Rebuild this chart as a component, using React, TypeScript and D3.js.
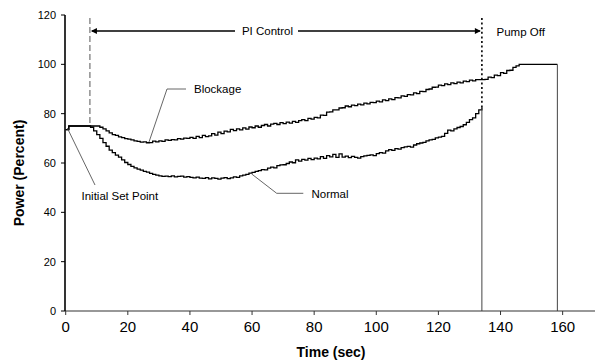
import React from "react";
import * as d3 from "d3";

// Sampled every 1 second; sample i is at t = i seconds
const normalValues = [
  73.5, 75, 75, 75, 75, 75, 75, 75, 74.5, 73, 71.5, 70, 68.3, 66.8, 65.2, 64.2, 63.2, 62.4, 61.3, 60.2,
  59.4, 58.6, 58, 57.5, 57.1, 56.6, 56.3, 55.8, 55.4, 55.1, 54.8, 54.6, 54.7, 54.5, 54.8, 54.4, 54.6, 54.7, 54.3, 54.5,
  54.2, 54.0, 54.3, 53.9, 53.8, 54.1, 53.6, 54.0, 53.8, 53.5, 53.9, 54.1, 53.7, 54.0, 54.4, 54.2, 54.8, 55.1, 55.4, 55.9,
  56.2, 56.6, 56.9, 57.3, 57.2, 57.9, 58.3, 58.0, 58.9, 59.2, 59.3, 59.8, 60.4, 60.1, 61.3, 60.8, 61.5, 61.2, 61.9, 61.4,
  62.0, 61.7, 62.6, 61.9, 63.0, 62.5, 63.5, 62.3, 63.7, 62.4, 62.8, 62.2, 62.7, 62.3, 62.0, 62.6, 62.9, 63.1, 63.3, 63.0,
  63.8, 64.2, 64.0, 64.9, 65.4, 65.1, 65.8, 65.6, 66.2, 66.5, 66.7, 66.4, 67.3, 67.8, 68.1, 68.4, 69.0, 69.4, 69.6, 70.2,
  70.5, 70.8, 72.0, 73.3, 73.0, 73.8, 74.4, 74.8, 75.5, 76.5, 77.6, 78.3, 80.0, 81.5, 82.5,
];
const normalOffTime = 134;

const blockageValues = [
  73.5, 75, 75, 75, 75, 75, 75, 75, 75, 75, 75, 74.5, 73.8, 73.0, 72.2, 71.5, 71.2, 70.6, 70.3, 69.9,
  69.7, 69.4, 69.0, 68.8, 68.5, 68.6, 68.2, 68.3, 68.9, 68.6, 69.0, 68.8, 69.4, 69.2, 69.5, 69.4, 69.9, 69.7, 70.1, 70.0,
  70.4, 70.0, 70.8, 70.3, 71.2, 70.7, 71.0, 71.9, 71.3, 72.5, 71.9, 72.9, 72.6, 73.6, 73.1, 73.8, 73.4, 74.2, 73.7, 74.6,
  74.3, 75.0, 74.5, 75.2, 75.6, 75.0, 75.8, 76.1, 75.6, 76.4, 76.0, 76.6, 76.2, 76.9, 76.5, 77.2, 77.6, 77.2, 78.1, 77.8,
  78.5, 78.3, 79.4, 79.3, 80.6, 80.7, 81.5, 81.5, 82.3, 82.4, 83.1, 82.8, 83.5, 83.3, 83.9, 83.6, 84.3, 84.0, 84.6, 84.5,
  85.1, 84.8, 85.6, 85.3, 86.0, 85.7, 86.5, 86.4, 87.2, 87.0, 87.7, 87.6, 88.4, 88.1, 89.0, 88.9, 89.8, 90.0, 90.7, 90.8,
  91.6, 91.4, 92.1, 91.8, 92.5, 92.2, 92.8, 92.5, 93.2, 93.0, 93.6, 93.3, 93.8, 93.8, 93.8, 93.9, 94.8, 94.6, 95.6, 95.4,
  96.6, 96.3, 97.5, 97.6, 98.8, 99.4, 100, 100,
];
const blockageHoldEnd = 158.3;
const blockageHoldValue = 100;

const xTicks = [0, 20, 40, 60, 80, 100, 120, 140, 160];
const yTicks = [0, 20, 40, 60, 80, 100, 120];

const controlStart = 7.8;
const controlEnd = 134;

const W = 595;
const H = 361;
const FONT = "'Liberation Sans', Arial, sans-serif";

export default function App() {
  const x = d3.scaleLinear().domain([0, 170]).range([65.7, 593.7]);
  const y = d3.scaleLinear().domain([0, 120]).range([311, 15]);

  const normalPts: [number, number][] = normalValues.map((v, i) => [i, v]);
  const blockPts: [number, number][] = blockageValues.map((v, i) => [i, v]);
  blockPts.push([blockageHoldEnd, blockageHoldValue]);

  const stepLine = d3
    .line<[number, number]>()
    .x((d) => x(d[0]))
    .y((d) => y(d[1]))
    .curve(d3.curveStepAfter);

  const arrowY = 31;
  const xa = x(controlStart);
  const xb = x(controlEnd);
  const normalEnd = normalValues[normalValues.length - 1];

  return (
    <svg width={W} height={H} style={{ position: "absolute", left: 0, top: 0, background: "#fff" }}>
      {/* curves */}
      <path d={stepLine(normalPts) || ""} fill="none" stroke="#000" strokeWidth={1.3} />
      <path d={stepLine(blockPts) || ""} fill="none" stroke="#000" strokeWidth={1.3} />
      {/* drops to zero */}
      <line x1={x(normalOffTime)} x2={x(normalOffTime)} y1={y(normalEnd)} y2={y(0)} stroke="#444" strokeWidth={1} />
      <line x1={x(blockageHoldEnd)} x2={x(blockageHoldEnd)} y1={y(blockageHoldValue)} y2={y(0)} stroke="#444" strokeWidth={1} />

      {/* dashed start-of-control line */}
      <line x1={xa} x2={xa} y1={18} y2={y(75)} stroke="#555" strokeWidth={1} strokeDasharray="6,3" />
      {/* dotted pump off line */}
      <line x1={xb} x2={xb} y1={18} y2={y(normalEnd)} stroke="#000" strokeWidth={1.6} strokeDasharray="2,2.6" />

      {/* PI control arrow */}
      <line x1={xa + 2} x2={235} y1={arrowY} y2={arrowY} stroke="#000" strokeWidth={1.5} />
      <line x1={298} x2={xb - 2} y1={arrowY} y2={arrowY} stroke="#000" strokeWidth={1.5} />
      <path d={`M${xa + 1},${arrowY} l6,-3 l0,6 z`} fill="#000" />
      <path d={`M${xb - 1},${arrowY} l-6,-3 l0,6 z`} fill="#000" />
      <text x={267.5} y={arrowY + 4} textAnchor="middle" fontFamily={FONT} fontSize={11.5}>PI Control</text>
      <text x={496.5} y={arrowY + 5} fontFamily={FONT} fontSize={11.5}>Pump Off</text>

      {/* annotations */}
      <polyline points="149,142 167,89 186,89" fill="none" stroke="#555" strokeWidth={0.9} />
      <text x={194} y={93} fontFamily={FONT} fontSize={11.5}>Blockage</text>
      <polyline points="251.7,174 276.7,193.3 303.3,193.3" fill="none" stroke="#555" strokeWidth={0.9} />
      <text x={311.5} y={197.5} fontFamily={FONT} fontSize={11.5}>Normal</text>
      <line x1={67.3} y1={128} x2={95} y2={185} stroke="#555" strokeWidth={0.9} />
      <text x={81.5} y={199.5} fontFamily={FONT} fontSize={11.5}>Initial Set Point</text>

      {/* axes */}
      <line x1={65} x2={W} y1={y(0)} y2={y(0)} stroke="#333" strokeWidth={1.2} />
      <line x1={65} x2={65} y1={y(120)} y2={y(0)} stroke="#000" strokeWidth={1.6} />
      {yTicks.map((t) => (
        <g key={"y" + t}>
          <line x1={61} x2={65} y1={y(t)} y2={y(t)} stroke="#000" strokeWidth={1} />
          <text x={56} y={y(t) + 4} textAnchor="end" fontFamily={FONT} fontSize={11}>{t}</text>
        </g>
      ))}
      {xTicks.map((t) => (
        <g key={"x" + t}>
          <line x1={x(t)} x2={x(t)} y1={y(0)} y2={y(0) + 4} stroke="#333" strokeWidth={1} />
          <text x={x(t)} y={331.5} textAnchor="middle" fontFamily={FONT} fontSize={15}>{t}</text>
        </g>
      ))}
      <text x={331} y={357} textAnchor="middle" fontFamily={FONT} fontSize={14} fontWeight="bold">Time (sec)</text>
      <text transform={`translate(24,173) rotate(-90)`} textAnchor="middle" fontFamily={FONT} fontSize={14} fontWeight="bold">Power (Percent)</text>
    </svg>
  );
}
